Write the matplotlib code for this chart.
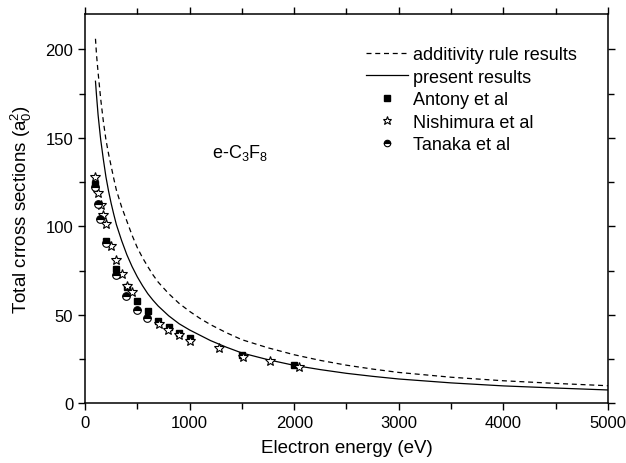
import matplotlib
matplotlib.use("Agg")
import matplotlib.pyplot as plt

plt.rcParams['font.family'] = ['Liberation Sans', 'DejaVu Sans']
plt.rcParams['mathtext.fontset'] = 'custom'
plt.rcParams['mathtext.rm'] = 'Liberation Sans'
plt.rcParams['mathtext.it'] = 'Liberation Sans'

# additivity rule results (dashed) and present results (solid)
curve_e = [100, 110, 125, 140, 150, 175, 200, 225, 250, 275, 300, 350, 400,
           450, 500, 550, 600, 650, 700, 800, 900, 1000, 1100, 1200, 1350,
           1500, 1750, 2000, 2250, 2500, 2750, 3000, 3500, 4000, 4500, 5000]
additivity_q = [206, 197, 187, 178, 172, 159.5, 149, 141, 134, 127, 120.5,
                111, 103, 95, 88, 82.3, 77.3, 72.6, 68.5, 62, 56.5, 52, 48,
                44.5, 40, 36, 31.4, 27.5, 24.3, 21.6, 19.4, 17.5, 14.8, 12.8,
                11.3, 10.0]
present_q = [182, 174, 163, 154.5, 149, 138, 128, 120, 113, 106.8, 101, 92,
             84, 77.3, 71.5, 66.5, 62, 58.3, 55, 49.5, 45, 41.5, 38.5, 35.5,
             31.8, 28.5, 24.7, 21.5, 19.1, 17, 15.3, 13.8, 11.6, 9.9, 8.7, 7.6]

# experimental points
antony_e = [100, 200, 300, 400, 500, 600, 700, 800, 900, 1000, 1500, 2000]
antony_q = [124.2, 92, 75.7, 65.7, 58, 52, 46.8, 43.4, 39.9, 37, 27.4, 21.7]

nishimura_e = [96, 121, 150, 175, 198, 249, 293, 351, 398, 446, 707, 797, 902,
               1007, 1278, 1513, 1769, 2046]
nishimura_q = [128, 119, 112.3, 106.3, 101.6, 89, 80.8, 73.3, 66.6, 62.9, 45,
               41.7, 38.7, 35.2, 31.4, 26.1, 24.2, 20.4]

tanaka_e = [97, 121, 145, 200, 293, 392, 494, 596]
tanaka_q = [122.4, 112.9, 104, 90.5, 72.3, 60.6, 52.5, 48.2]

fig = plt.figure(figsize=(6.26, 4.64), dpi=100)
ax = fig.add_axes([0.1358, 0.1284, 0.8354, 0.8393])

ax.plot(curve_e, additivity_q, color='black', lw=0.9, ls=(0, (4, 3)),
        label='additivity rule results')
ax.plot(curve_e, present_q, color='black', lw=0.9, label='present results')
ax.plot(antony_e, antony_q, ls='none', marker='s', ms=5, color='black',
        label='Antony et al')
ax.plot(nishimura_e, nishimura_q, ls='none', marker='*', ms=7.5, mfc='white',
        mec='black', mew=0.8, label='Nishimura et al')
ax.plot(tanaka_e, tanaka_q, ls='none', marker='o', ms=5.5, fillstyle='top',
        mfc='black', mfcalt='white', mec='black', mew=0.8, label='Tanaka et al')

ax.set_xlim(0, 5000)
ax.set_ylim(0, 220)
ax.set_xticks([0, 1000, 2000, 3000, 4000, 5000])
ax.set_xticks(range(500, 5000, 1000), minor=True)
ax.set_yticks([0, 50, 100, 150, 200])
ax.set_yticks([25, 75, 125, 175], minor=True)
ax.tick_params(which='both', direction='out', top=True, right=True,
               labelsize=12, width=1)
ax.tick_params(which='major', length=5)
ax.tick_params(which='minor', length=4)
for s in ax.spines.values():
    s.set_linewidth(1.1)

ax.set_xlabel('Electron energy (eV)', fontsize=13.5, labelpad=6)
ax.set_ylabel('Total crross sections (a$_0^2$)', fontsize=13.5, labelpad=8)

ax.text(1210, 139, 'e-C$_3$F$_8$', fontsize=13)

leg = ax.legend(loc='upper left', bbox_to_anchor=(0.538, 0.917), frameon=False,
                fontsize=13, handlelength=2.3, handletextpad=0.3,
                labelspacing=0.3, numpoints=1, borderpad=0, borderaxespad=0,
                markerscale=0.85)

fig.savefig('out.png', dpi=100)
